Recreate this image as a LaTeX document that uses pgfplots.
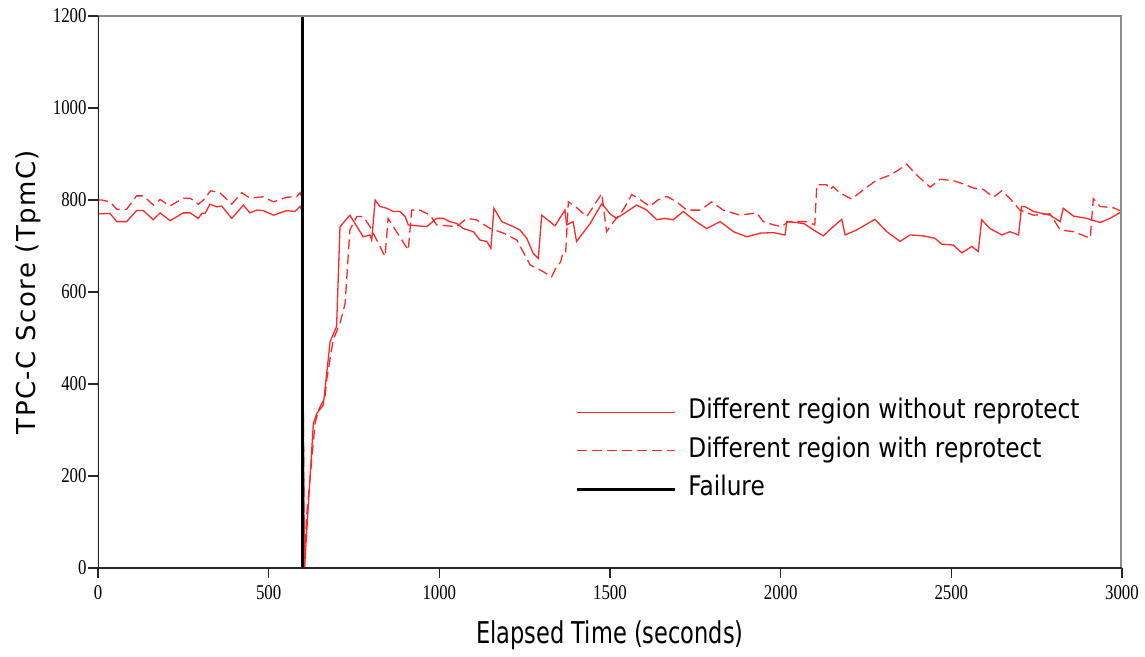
\documentclass[border=0pt]{standalone}
\usepackage{fontspec}
\usepackage{pgfplots}
\pgfplotsset{compat=1.18}
\setmainfont{DejaVu Sans}
\newfontfamily\xlabfont[FakeStretch=0.75]{DejaVu Sans}
\newfontfamily\ylabfont[LetterSpace=5.5]{DejaVu Sans}
\newfontfamily\legfont[FakeStretch=0.86]{DejaVu Sans}
\newfontfamily\tickfont[FakeStretch=0.8]{Liberation Serif}
\definecolor{tpcred}{RGB}{255,40,40}
\definecolor{framegray}{RGB}{140,140,140}

\begin{document}
\begin{tikzpicture}
\begin{axis}[
  width=1024pt, height=552pt, scale only axis,
  xmin=0, xmax=3000, ymin=0, ymax=1200,
  xtick={0,500,...,3000}, ytick={0,200,...,1200},
  tick align=outside, xtick pos=left, ytick pos=left,
  major tick length=10pt,
  tick style={black!85, line width=1.5pt},
  axis line style={draw=none},
  /pgf/number format/assume math mode=true,
  /pgf/number format/1000 sep={},
  tick label style={font=\tickfont\fontsize{21}{21}\selectfont},
  xticklabel style={yshift=-4pt},
  yticklabel style={xshift=2pt},
  xlabel={Elapsed Time (seconds)},
  ylabel={TPC-C Score (TpmC)},
  xlabel style={font=\xlabfont\fontsize{30}{30}\selectfont, at={(axis description cs:0.5,-0.1214)}, anchor=center},
  ylabel style={font=\ylabfont\fontsize{26}{26}\selectfont, at={(axis description cs:-0.0684,0.5)}, anchor=center},
  legend cell align=left,
  legend style={at={(axis cs:1398,366)}, anchor=north west, draw=none, fill=none,
    inner sep=0pt, row sep=13.5pt,
    font=\legfont\fontsize{27}{27}\selectfont,
    nodes={inner sep=0pt, text height=19pt, text depth=6pt},
    /tikz/every odd column/.append style={column sep=12pt}},
  legend image code/.code={\draw[#1] (0pt,0pt) -- (98pt,0pt);},
]
% without reprotect
\addplot[tpcred, line width=1.3pt] coordinates {
(0,770)(11,770)(35,771)(55,753)(84,753)(113,777)(133,777)(162,757)(182,772)(211,755)
(250,772)(270,772)(294,760)(304,771)(314,771)(328,791)(348,785)(362,787)(392,760)(426,789)
(445,772)(465,778)(484,777)(514,767)(553,777)(577,775)(592,786)(597,778)
(605,0)(631,315)(641,336)(660,354)(680,492)(699,525)(709,742)(738,767)(777,720)(797,724)
(802,713)(812,800)(826,786)(846,782)(865,775)(885,775)(900,764)(909,746)(934,744)(963,742)
(992,760)(1012,760)(1031,753)(1051,749)(1070,738)(1100,731)(1119,713)(1139,710)(1151,695)(1160,782)
(1183,753)(1217,742)(1236,735)(1256,717)(1275,684)(1290,673)(1300,767)(1339,744)(1368,778)(1373,746)
(1392,753)(1402,710)(1442,749)(1476,792)(1500,770)(1519,760)(1550,775)(1578,789)(1608,778)(1637,757)
(1660,760)(1685,757)(1715,775)(1745,757)(1783,738)(1823,753)(1862,731)(1901,720)(1940,728)(1979,729)
(2013,724)(2018,753)(2047,751)(2070,748)(2096,735)(2125,722)(2154,742)(2179,758)(2189,724)(2223,735)
(2276,758)(2311,731)(2350,710)(2379,724)(2418,722)(2452,717)(2472,704)(2506,702)(2531,685)(2560,699)
(2579,688)(2589,757)(2613,738)(2648,724)(2672,731)(2697,724)(2706,786)(2715,786)(2741,775)(2789,767)
(2819,753)(2828,782)(2858,765)(2897,760)(2936,751)(2965,760)(3000,775)
};
\addlegendentry{Different region without reprotect}
% with reprotect
\addplot[tpcred, line width=1.3pt, dash pattern=on 10pt off 5pt] coordinates {
(0,800)(11,800)(35,796)(55,780)(84,780)(113,809)(133,809)(162,789)(182,801)(211,787)
(250,804)(270,804)(294,791)(309,800)(330,820)(357,816)(392,791)(421,816)(445,804)(484,807)
(514,796)(553,806)(582,807)(592,816)(597,807)
(605,0)(611,112)(636,315)(646,343)(665,372)(670,409)(689,496)(709,532)(724,575)(738,735)
(758,764)(777,764)(797,742)(841,677)(850,760)(909,691)(919,778)(943,778)(973,767)(992,746)
(1051,742)(1080,760)(1109,757)(1149,738)(1188,728)(1227,713)(1266,659)(1305,644)(1329,633)(1340,650)
(1355,665)(1362,684)(1370,684)(1378,796)(1400,785)(1432,764)(1476,814)(1490,731)(1510,752)(1540,780)
(1564,812)(1590,800)(1617,786)(1640,800)(1666,808)(1695,796)(1725,778)(1765,778)(1798,796)(1832,778)
(1881,767)(1930,772)(1949,753)(1979,746)(2003,742)(2022,753)(2076,753)(2100,746)(2106,833)(2135,833)
(2145,823)(2154,829)(2174,815)(2208,802)(2242,822)(2281,843)(2320,854)(2345,865)(2369,878)(2399,854)
(2438,828)(2467,845)(2506,842)(2535,835)(2565,826)(2594,823)(2623,806)(2648,820)(2672,803)(2701,778)
(2741,767)(2789,770)(2819,735)(2858,731)(2907,717)(2916,803)(2936,786)(2975,783)(3000,775)
};
\addlegendentry{Different region with reprotect}
% failure
\addplot[black, line width=3pt] coordinates {(600,0)(600,1200)};
\addlegendentry{Failure}
% frame
\draw[framegray, line width=3pt] (rel axis cs:0,1) -- (rel axis cs:1,1) -- (rel axis cs:1,0);
\draw[black!85, line width=2pt] (rel axis cs:0,1) -- (rel axis cs:0,0) -- (rel axis cs:1,0);
\end{axis}
\pgfresetboundingbox
\useasboundingbox (-98pt,-88pt) rectangle (1047pt,568pt);
\end{tikzpicture}
\end{document}
